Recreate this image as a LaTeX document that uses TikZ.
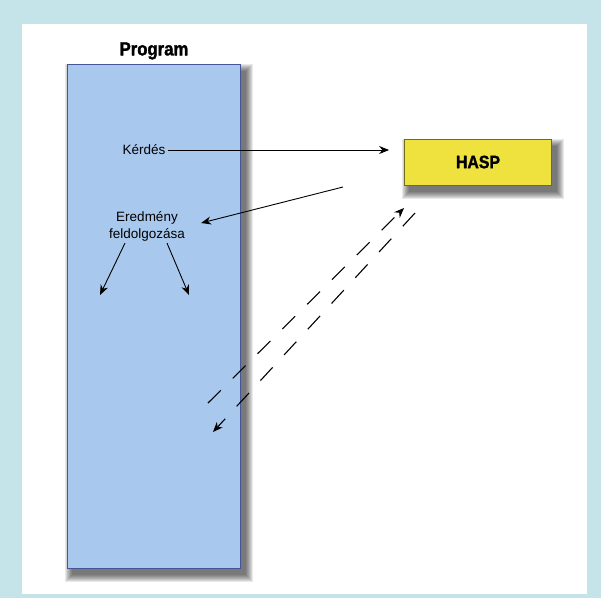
\documentclass[tikz,border=0pt]{standalone}
\usepackage{fontspec}
\setmainfont{Liberation Sans}
\newfontfamily\headfont[FakeStretch=0.88, BoldFeatures={FakeBold=1.6}]{Liberation Sans}
\usetikzlibrary{positioning, arrows.meta}
\definecolor{frameblue}{RGB}{196,228,234}
\definecolor{progblue}{RGB}{168,200,238}
\definecolor{progedge}{RGB}{70,85,150}
\definecolor{haspyellow}{RGB}{240,226,62}
\definecolor{haspedge}{RGB}{110,110,30}
\pgfdeclarelayer{background}
\pgfsetlayers{background,main}

\begin{document}
\begin{tikzpicture}[x=1pt, y=-1pt, every node/.style={inner sep=2pt},
  progbox/.style={draw=progedge, fill=progblue, line width=0.8pt,
    minimum width=173pt, minimum height=504pt},
  haspbox/.style={draw=haspedge, fill=haspyellow, line width=0.8pt,
    minimum width=147pt, minimum height=46pt,
    font=\headfont\bfseries\fontsize{18}{20}\selectfont},
  shade/.style={fill=black, opacity=0.085},
  head/.style={font=\headfont\bfseries\fontsize{19}{21}\selectfont},
  lbl/.style={font=\fontsize{13.5}{17}\selectfont, align=center},
  arrow/.style={-{Stealth[length=10pt, width=8pt]}, line width=0.9pt},
  dasharrow/.style={arrow, line width=1.1pt, dash pattern=on 18pt off 17pt}]
\useasboundingbox (0,0) rectangle (601,598);

\node[progbox] (prog) at (154,316) {};
\node[head, above=2pt of prog] (progtitle) {Program};
\node[haspbox] (hasp) at (478,162) {HASP};

\node[lbl] (ask) at (144,150) {Kérdés};
\node[lbl] (result) at (147,226) {Eredmény\\feldolgozása};

% frame, paper and soft shadows
\begin{pgfonlayer}{background}
  \fill[frameblue] (0,0) rectangle (601,598);
  \fill[white] (22,24) rectangle (587,594);
  \foreach \g in {0,...,7} {
    \fill[shade] ([shift={(5-\g,7-\g)}]prog.north west) rectangle ([shift={(5+\g,7+\g)}]prog.south east);
    \fill[shade] ([shift={(5-\g,7-\g)}]hasp.north west) rectangle ([shift={(5+\g,7+\g)}]hasp.south east);
  }
\end{pgfonlayer}

% helper ends
\coordinate (back) at (343,187);
\coordinate (outL) at (100,295);
\coordinate (outR) at (189,295);
\coordinate (upEnd) at (404,208);
\coordinate (upStart) at (208,403);
\coordinate (downStart) at (415,213);
\coordinate (downEnd) at (213,432);

\draw[arrow, shorten >=15pt] (ask.east) -- (ask.east -| hasp.west);
\draw[arrow] (back) -- ([xshift=14pt,yshift=3pt]result.east);
\draw[arrow] ([xshift=-22pt]result.south) -- (outL);
\draw[arrow] ([xshift=20pt]result.south) -- (outR);
\draw[dasharrow] (upStart) -- (upEnd);
\draw[dasharrow] (downStart) -- (downEnd);
\end{tikzpicture}
\end{document}
